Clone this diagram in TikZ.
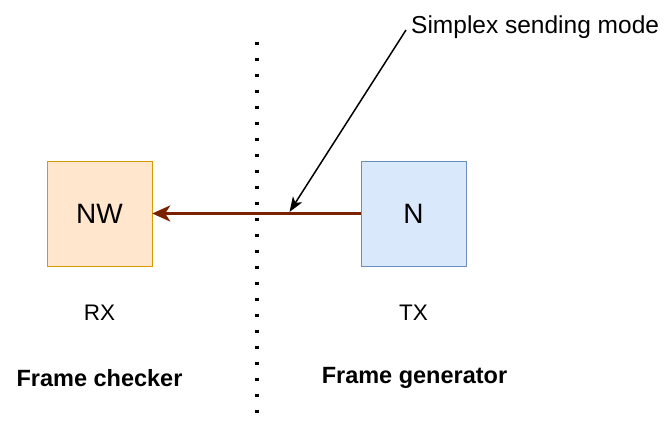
\documentclass[tikz,border=0pt]{standalone}
\usepackage{fontspec}
\setmainfont{Liberation Sans}
\usetikzlibrary{arrows.meta,positioning}
\definecolor{nwfill}{HTML}{FFE6CC}
\definecolor{nwline}{HTML}{D79B00}
\definecolor{nfill}{HTML}{DAE8FC}
\definecolor{nline}{HTML}{6C8EBF}
\definecolor{linkred}{RGB}{122,34,0}

\begin{document}
\begin{tikzpicture}[x=1pt,y=-1pt,>=Stealth]
  \tikzstyle{station}=[rectangle,minimum size=105pt,inner sep=0pt,font=\fontsize{28}{32}\selectfont]
  \tikzstyle{rxbox}=[station,draw=nwline,fill=nwfill]
  \tikzstyle{txbox}=[station,draw=nline,fill=nfill]
  \tikzstyle{side}=[font=\fontsize{22.5}{26}\selectfont]
  \tikzstyle{role}=[font=\fontsize{23.5}{27}\selectfont\bfseries]
  \tikzstyle{note}=[font=\fontsize{24.5}{28}\selectfont,inner sep=0pt]

  \useasboundingbox (0,0) rectangle (665,423);

  % stations
  \node [rxbox] (NW) at (99.5,213.5) {NW};
  \node [txbox] (N) at (413.5,213.5) {N};
  \node [side] (RX) at (99.5,313) {RX};
  \node [side] (TX) at (413.5,313) {TX};
  \node [role] (chk) at (99.5,378) {Frame checker};
  \node [role] (gen) at (414.5,378) {Frame generator};

  % divider
  \coordinate (divtop) at (257,42);
  \coordinate (divbot) at (257,425);
  \draw [line width=3.2pt,dash pattern=on 3.2pt off 12.8pt] (divtop) -- (divbot);

  % link
  \draw [line width=3pt,draw=linkred,
         arrows={-Stealth[length=18pt,width=16pt,inset=5pt]}] (N) -- (NW);

  % annotation
  \node [note,anchor=west] (mode) at (411,27) {Simplex sending mode};
  \coordinate (tail) at (406,30);
  \coordinate (hit) at (289.5,212);
  \draw [line width=1.5pt,arrows={-Stealth[length=15pt,width=11pt,inset=4pt]}]
    (tail) -- (hit);
\end{tikzpicture}
\end{document}
